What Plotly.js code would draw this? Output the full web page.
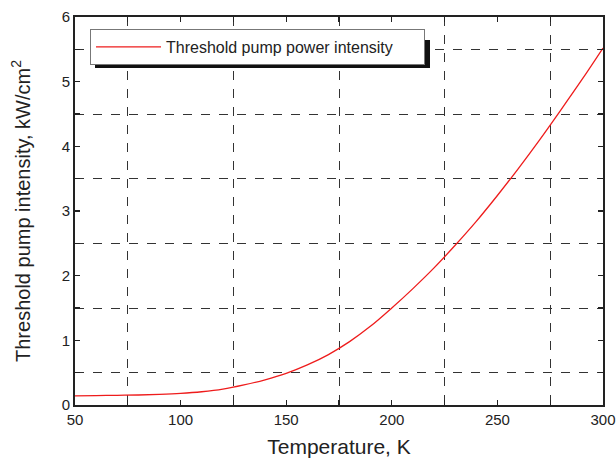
<!DOCTYPE html>
<html><head><meta charset="utf-8">
<script src="https://cdn.plot.ly/plotly-3.0.1.min.js"></script>
<style>html,body{margin:0;padding:0;background:#fff}#chart{width:616px;height:461px}</style>
</head><body><div id="chart"></div>
<script>
const temperature = [50,60,70,80,90,100,110,120,130,140,150,160,170,180,190,200,210,220,230,240,250,260,270,280,290,300];
const threshold = [0.14,0.145,0.15,0.155,0.165,0.18,0.205,0.245,0.31,0.39,0.49,0.62,0.78,0.98,1.22,1.50,1.80,2.12,2.47,2.84,3.24,3.66,4.10,4.56,5.03,5.52];
const seriesName = 'Threshold pump power intensity';

const L=75, R=603, T=17, B=405, W=R-L, H=B-T;
const px = v => (v-L)/W, py = v => (B-v)/H;

const fnt = {family:'Liberation Sans, Arial, sans-serif', color:'#222'};
const axisCommon = {
  showline:true, linecolor:'#222', linewidth:2, mirror:'ticks',
  ticks:'inside', ticklen:5, tickwidth:1.2, tickcolor:'#222',
  showgrid:false, zeroline:false,
  tickfont:Object.assign({size:15}, fnt)
};
const layout = {
  width:616, height:461,
  margin:{l:L, r:616-R, t:T, b:461-B},
  paper_bgcolor:'#fff', plot_bgcolor:'#fff',
  font:fnt,
  showlegend:true,
  xaxis:Object.assign({}, axisCommon, {
    range:[50,300], tick0:50, dtick:50,
    minor:{dtick:25, tick0:50, showgrid:true, griddash:'dash', gridcolor:'#333', gridwidth:1, ticks:'inside', ticklen:5, tickcolor:'#222'},
    title:{text:'Temperature, K', font:Object.assign({size:21}, fnt), standoff:12}
  }),
  yaxis:Object.assign({}, axisCommon, {
    range:[0,6], tick0:0, dtick:1,
    minor:{dtick:0.5, tick0:0, showgrid:true, griddash:'dash', gridcolor:'#333', gridwidth:1, ticks:'inside', ticklen:5, tickcolor:'#222'},
    title:{text:'Threshold pump intensity, kW/cm<sup>2</sup>', font:Object.assign({size:20}, fnt), standoff:26}
  }),
  legend:{
    x:px(90), y:py(29), xanchor:'left', yanchor:'top',
    bgcolor:'#fff', bordercolor:'#777', borderwidth:1,
    font:Object.assign({size:16}, fnt),
    orientation:'h', entrywidth:253, itemwidth:65
  },
  shapes:[{type:'rect', xref:'paper', yref:'paper', x0:px(95), x1:px(430), y0:py(68), y1:py(40), fillcolor:'#111', line:{width:0}, layer:'above'}]
};
Plotly.newPlot('chart', [{
  x:temperature, y:threshold, type:'scatter', mode:'lines', name:seriesName,
  line:{color:'#ee1c1c', width:1.3, shape:'spline'}
}], layout, {displayModeBar:false, staticPlot:true});
</script></body></html>
